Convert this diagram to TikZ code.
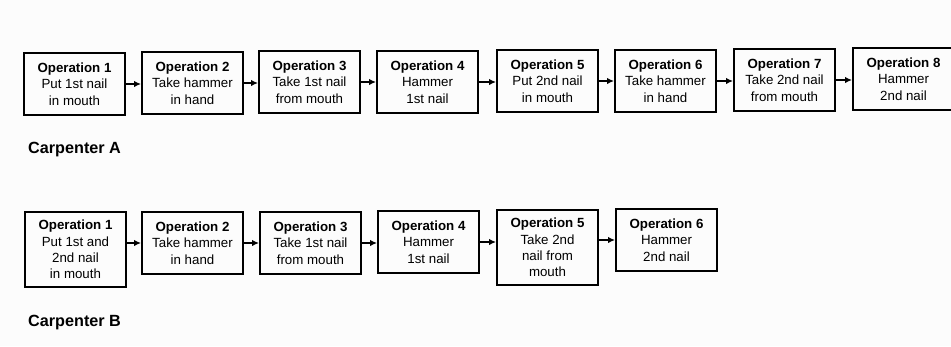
\documentclass[tikz,border=0pt]{standalone}
\usepackage{fontspec}
\setmainfont{Liberation Sans}
\usetikzlibrary{arrows.meta}
\begin{document}
\begin{tikzpicture}[x=1pt,y=-1pt,
  opbox/.style={draw, line width=2pt, minimum width=101pt, minimum height=62pt,
    inner sep=0pt, align=center, font=\fontsize{13.3}{16.3}\selectfont},
  tall/.style={minimum height=75pt},
  flow/.style={line width=1.6pt, -{Latex[length=7pt,width=6.5pt]}},
  caption/.style={anchor=west, inner sep=0pt, font=\fontsize{16.2}{18}\selectfont\bfseries}]
\useasboundingbox (0,0) rectangle (951,346);
\clip (0,0) rectangle (951,346);
\fill[white!99!black] (0,0) rectangle (951,346);

% Carpenter A: eight operations
\node[opbox] (a1) at (74.5,84)  {\textbf{Operation 1}\\Put 1st nail\\in mouth};
\node[opbox] (a2) at (192.5,83) {\textbf{Operation 2}\\Take hammer\\in hand};
\node[opbox] (a3) at (309.5,82) {\textbf{Operation 3}\\Take 1st nail\\from mouth};
\node[opbox] (a4) at (427.5,82) {\textbf{Operation 4}\\Hammer\\1st nail};
\node[opbox] (a5) at (547.5,81) {\textbf{Operation 5}\\Put 2nd nail\\in mouth};
\node[opbox] (a6) at (665.5,81) {\textbf{Operation 6}\\Take hammer\\in hand};
\node[opbox] (a7) at (784.5,80) {\textbf{Operation 7}\\Take 2nd nail\\from mouth};
\node[opbox] (a8) at (903.5,79) {\textbf{Operation 8}\\Hammer\\2nd nail};

\foreach \p/\q in {a1/a2,a2/a3,a3/a4,a4/a5,a5/a6,a6/a7,a7/a8}
  \draw[flow] (\p.east) -- (\p.east -| \q.west);

\node[caption] (capA) at (28,150) {Carpenter A};

% Carpenter B: six operations
\node[opbox,tall] (b1) at (75.5,249.5)  {\textbf{Operation 1}\\Put 1st and\\2nd nail\\in mouth};
\node[opbox] (b2) at (192.5,243)        {\textbf{Operation 2}\\Take hammer\\in hand};
\node[opbox] (b3) at (310.5,243)        {\textbf{Operation 3}\\Take 1st nail\\from mouth};
\node[opbox] (b4) at (428.5,242)        {\textbf{Operation 4}\\Hammer\\1st nail};
\node[opbox,tall] (b5) at (547.5,247.5) {\textbf{Operation 5}\\Take 2nd\\nail from\\mouth};
\node[opbox] (b6) at (666.5,240)        {\textbf{Operation 6}\\Hammer\\2nd nail};

\draw[flow] (b1.east |- b2.west) -- (b2.west);
\foreach \p/\q in {b2/b3,b3/b4,b4/b5}
  \draw[flow] (\p.east) -- (\p.east -| \q.west);
\draw[flow] (b5.east |- b6.west) -- (b6.west);

\node[caption] (capB) at (28,323) {Carpenter B};
\end{tikzpicture}
\end{document}
